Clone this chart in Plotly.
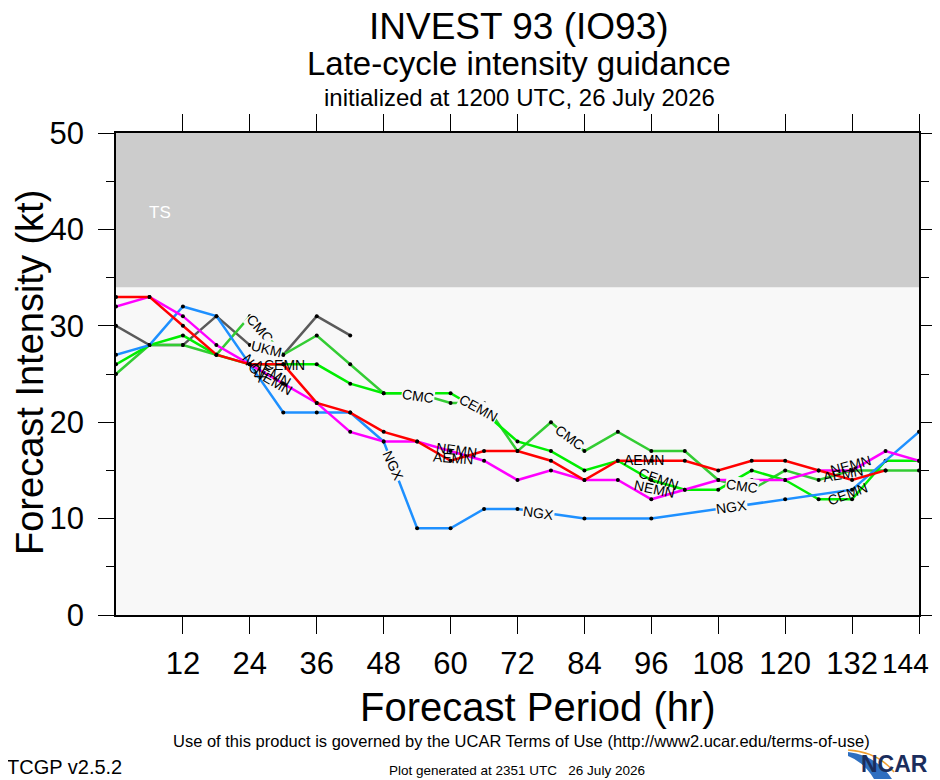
import plotly.graph_objects as go

# forecast hours, every 6 h
hours = list(range(0, 145, 6))

# intensity guidance (kt), None where the model has no point
aemn = [33, 33, 30, 27, 26, 26, 22, 21, 19, 18, 16, 17, 17, 16, 14, 16, 16, 16, 15, 16, 16, 15, 14, 15, None]
nemn = [32, 33, 31, 28, 26, 24, 22, 19, 18, 18, 17, 16, 14, 15, 14, 14, 12, 13, 14, 14, 14, 15, 15, 17, 16]
ngx = [27, 28, 32, 31, 26, 21, 21, 21, 18, 9, 9, 11, 11, None, 10, None, 10, None, 11, None, 12, None, 13, None, 19]
ukm = [30, 28, 28, 31, 28, 27, 31, 29] + [None] * 17
cmc = [25, 28, 28, 27, 31, 27, 29, 26, 23, 23, 22, 22, 17, 20, 17, 19, 17, 17, 14, 13, 15, 14, 15, 15, 15]
cemn = [26, 28, 29, 27, 26, 26, 26, 24, 23, 23, 23, 21, 18, 17, 15, 16, 14, 13, 13, 15, 14, 12, 12, 16, 16]

x_ticks = list(range(12, 145, 12))
y_ticks = [0, 10, 20, 30, 40, 50]

FONT = "Liberation Sans, Arial, Helvetica, sans-serif"
PLOT_BG = "#f8f8f8"

# the page body has an 8 px margin, so the figure is 8 px smaller than the window
OFF = 8
W, H = 940 - OFF, 780 - OFF
# plot box in window pixels
L, R, T, B = 116, 919, 133, 615


def px_x(p):
    return (p - L) / (R - L)


def px_y(p):
    return (B - p) / (B - T)


def page_text(txt, x, y, size, color="black", xanchor="center", angle=0):
    fig.add_annotation(x=px_x(x), y=px_y(y), xref="paper", yref="paper", text=txt,
                       showarrow=False, textangle=angle, xanchor=xanchor, yanchor="middle",
                       font=dict(family=FONT, size=size, color=color))


fig = go.Figure()

models = [
    ("UKM", ukm, "#5a5a5a"),
    ("CMC", cmc, "#33cc33"),
    ("CEMN", cemn, "#00ee00"),
    ("NGX", ngx, "#1e90ff"),
    ("NEMN", nemn, "#ff00ff"),
    ("AEMN", aemn, "#ff0000"),
]
for name, vals, col in models:
    fig.add_trace(go.Scatter(
        x=hours, y=vals, name=name, mode="lines+markers", connectgaps=True,
        line=dict(color=col, width=2.5),
        marker=dict(color="black", size=4),
        showlegend=False, hoverinfo="skip"))

# tropical storm band
fig.add_shape(type="rect", xref="x", yref="y", x0=0, x1=144, y0=34, y1=50,
              fillcolor="#cccccc", line_width=0, layer="below")

# model labels drawn along the lines (text, hour, kt, angle, blank the line behind)
line_labels = [
    ("CMC", 25.9, 29.7, 49, True),
    ("UKM", 27.0, 27.6, 14, True),
    ("NGX", 24.8, 25.6, 55, False),
    ("CEMN", 30.3, 25.9, 0, False),
    ("AEMN", 28.0, 25.1, 30, False),
    ("NEMN", 28.2, 24.3, 30, False),
    ("CMC", 54.1, 22.7, 8, True),
    ("NGX", 49.8, 15.5, 66, True),
    ("CEMN", 65.0, 21.5, 29, True),
    ("NEMN", 61.0, 17.1, 8, False),
    ("AEMN", 60.4, 16.3, 4, False),
    ("CMC", 81.5, 18.4, 36, True),
    ("NGX", 75.8, 10.6, 8, True),
    ("AEMN", 94.6, 16.1, 0, False),
    ("CEMN", 97.3, 14.1, 20, False),
    ("NEMN", 96.6, 13.1, 12, False),
    ("CMC", 112.2, 13.4, 8, True),
    ("NGX", 110.3, 11.2, -8, True),
    ("NEMN", 131.8, 15.6, -15, False),
    ("AEMN", 130.3, 14.6, -10, False),
    ("CEMN", 131.2, 12.6, -20, False),
]
for txt, hx, ky, ang, blank in line_labels:
    fig.add_annotation(x=hx, y=ky, xref="x", yref="y", text=txt, showarrow=False,
                       textangle=ang, font=dict(family=FONT, size=14, color="black"),
                       bgcolor=PLOT_BG if blank else None, borderpad=0)

fig.add_annotation(x=7.9, y=41.8, xref="x", yref="y", text="TS", showarrow=False,
                   font=dict(family=FONT, size=17, color="white"))

# titles
page_text("INVEST 93 (IO93)", 519, 27, 37)
page_text("Late-cycle intensity guidance", 519, 63, 33)
page_text("initialized at 1200 UTC, 26 July 2026", 519, 97, 24)

# axis titles
page_text("Forecast Period (hr)", 538, 707, 40)
page_text("Forecast Intensity (kt)", 30, 373, 38, angle=-90)

# last x tick label sits on the page edge, so it is written by hand
fig.add_annotation(x=px_x(931), y=px_y(663), xref="paper", yref="paper", text="144", showarrow=False,
                   xanchor="right", yanchor="middle", font=dict(family=FONT, size=28, color="black"))

# footer
page_text("Use of this product is governed by the UCAR Terms of Use (http://www2.ucar.edu/terms-of-use)",
          521, 741, 16.5)
page_text("TCGP v2.5.2", 5, 767, 20, xanchor="left")
page_text("Plot generated at 2351 UTC\u00a0\u00a0\u00a026 July 2026", 517, 770, 13.5)

# NCAR logo, rough
fig.add_shape(type="path", xref="paper", yref="paper",
              path=f"M {px_x(848)},{px_y(752)} Q {px_x(876)},{px_y(755)} {px_x(892)},{px_y(779)} "
                   f"L {px_x(874)},{px_y(779)} Q {px_x(864)},{px_y(762)} {px_x(848)},{px_y(756)} Z",
              fillcolor="#2f6fc0", line_width=0)
fig.add_shape(type="path", xref="paper", yref="paper",
              path=f"M {px_x(848)},{px_y(750)} Q {px_x(878)},{px_y(752)} {px_x(894)},{px_y(772)}",
              line=dict(color="#f0a030", width=1.5))
page_text("<b>NCAR</b>", 930, 764, 23, color="#1b2d5c", xanchor="right")

fig.update_layout(
    width=W, height=H,
    margin=dict(l=L - OFF, r=W - (R - OFF), t=T - OFF, b=H - (B - OFF), pad=0),
    paper_bgcolor="white", plot_bgcolor=PLOT_BG,
    font=dict(family=FONT, color="black"),
)
fig.update_xaxes(range=[0, 144], tickvals=x_ticks,
                 ticktext=[str(t) if t < 144 else "" for t in x_ticks],
                 ticks="outside", ticklen=17, tickwidth=1.2,
                 tickcolor="black", showline=True, linecolor="black", linewidth=1.5,
                 mirror="ticks", showgrid=False, zeroline=False, automargin=False,
                 tickfont=dict(family=FONT, size=31), ticklabelstandoff=3)
fig.update_yaxes(range=[0, 50], tickvals=y_ticks, ticks="outside", ticklen=16, tickwidth=1.2,
                 tickcolor="black", showline=True, linecolor="black", linewidth=1.5,
                 mirror="ticks", showgrid=False, zeroline=False, automargin=False,
                 minor=dict(dtick=5, ticklen=8, ticks="outside", tickcolor="black", tickwidth=1.2),
                 tickfont=dict(family=FONT, size=31), ticklabelstandoff=8)

fig.write_html("out.html")
